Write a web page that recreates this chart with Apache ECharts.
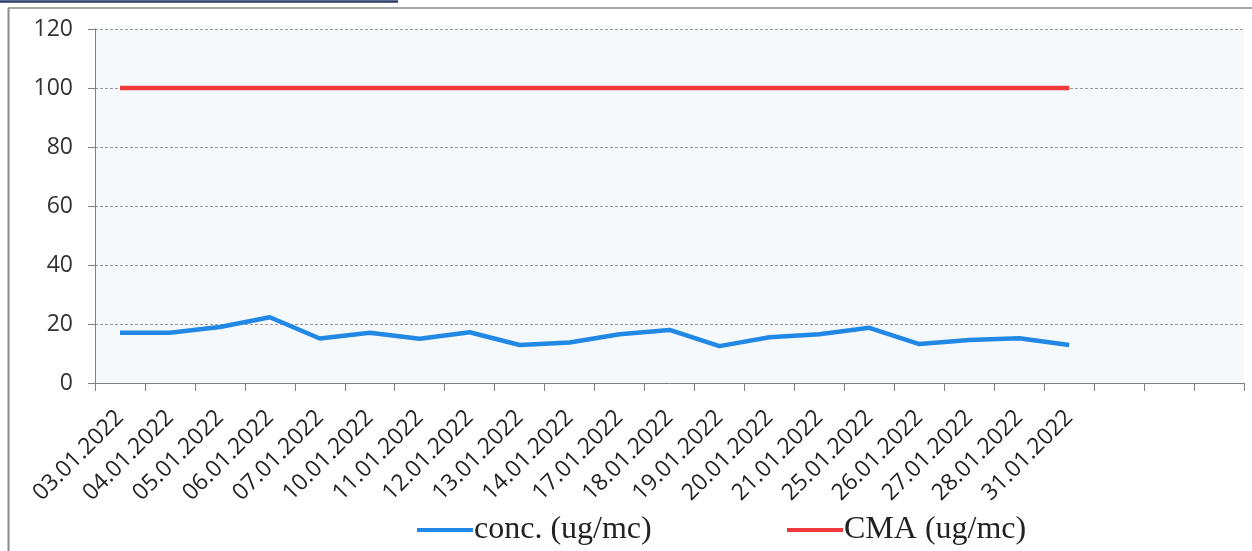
<!DOCTYPE html>
<html>
<head>
<meta charset="utf-8">
<script src="https://cdn.jsdelivr.net/npm/echarts@6/dist/echarts.min.js"></script>
<style>
html,body{margin:0;padding:0;background:#fff;}
#chart{width:1252px;height:551px;}
</style>
</head>
<body>
<div id="chart"></div>
<script>
const categories = ['03.01.2022','04.01.2022','05.01.2022','06.01.2022','07.01.2022','10.01.2022','11.01.2022','12.01.2022','13.01.2022','14.01.2022','17.01.2022','18.01.2022','19.01.2022','20.01.2022','21.01.2022','25.01.2022','26.01.2022','27.01.2022','28.01.2022','31.01.2022','','',''];
const concValues = [17, 17, 19, 22.3, 15.1, 17, 15, 17.2, 12.9, 13.7, 16.5, 18, 12.5, 15.5, 16.5, 18.7, 13.2, 14.6, 15.2, 12.9];
const cmaValues = [100,100,100,100,100,100,100,100,100,100,100,100,100,100,100,100,100,100,100,100];
const yTicks = [0, 20, 40, 60, 80, 100, 120];

const legendText = {fontFamily: 'Liberation Serif', fontSize: 32, color: '#222'};
const chart = echarts.init(document.getElementById('chart'));
chart.setOption({
  animation: false,
  backgroundColor: '#ffffff',
  graphic: [
    {type:'line', shape:{x1:0,y1:1.5,x2:398,y2:1.5}, style:{stroke:'#2a3a6a', lineWidth:2.5}},
    {type:'line', shape:{x1:8,y1:8,x2:1252,y2:8}, style:{stroke:'#8a8a8a', lineWidth:1.5}},
    {type:'line', shape:{x1:8.5,y1:8,x2:8.5,y2:551}, style:{stroke:'#8a8a8a', lineWidth:2}}
  ],
  grid: {left: 95, right: 8, top: 29, bottom: 168, show: true, backgroundColor: '#f5f9fc', borderWidth: 0},
  legend: [
    {
      top: 514, left: 417, padding: 0, itemWidth: 56, itemHeight: 4, itemGap: 0, icon: 'rect',
      textStyle: Object.assign({padding: [0, 0, 0, -4]}, legendText),
      data: ['conc. (ug/mc)']
    },
    {
      top: 514, left: 787, padding: 0, itemWidth: 56, itemHeight: 4, itemGap: 0, icon: 'rect',
      textStyle: Object.assign({padding: [0, 0, 0, -4]}, legendText),
      data: ['CMA (ug/mc)']
    }
  ],
  xAxis: {
    type: 'category',
    data: categories,
    boundaryGap: true,
    axisLine: {lineStyle: {color: '#808080', width: 1}},
    axisTick: {show: true, length: 8, lineStyle: {color: '#808080'}},
    axisLabel: {rotate: 45, interval: 0, fontFamily: 'Open Sans', fontSize: 23, color: '#222', margin: 31}
  },
  yAxis: {
    type: 'value',
    min: yTicks[0],
    max: yTicks[yTicks.length - 1],
    interval: 20,
    axisLine: {show: true, lineStyle: {color: '#808080'}},
    axisTick: {show: true, length: 7, lineStyle: {color: '#808080'}},
    splitLine: {show: true, lineStyle: {color: '#999', type: [3, 2], width: 1}},
    axisLabel: {fontFamily: 'Open Sans', fontSize: 23, color: '#333', margin: 22}
  },
  series: [
    {
      name: 'conc. (ug/mc)', type: 'line', data: concValues, symbol: 'none',
      lineStyle: {color: '#2288e6', width: 4.5}, itemStyle: {color: '#2288e6'}
    },
    {
      name: 'CMA (ug/mc)', type: 'line', data: cmaValues, symbol: 'none',
      lineStyle: {color: '#f03a3a', width: 4.5}, itemStyle: {color: '#f03a3a'}
    }
  ]
});
</script>
</body>
</html>
